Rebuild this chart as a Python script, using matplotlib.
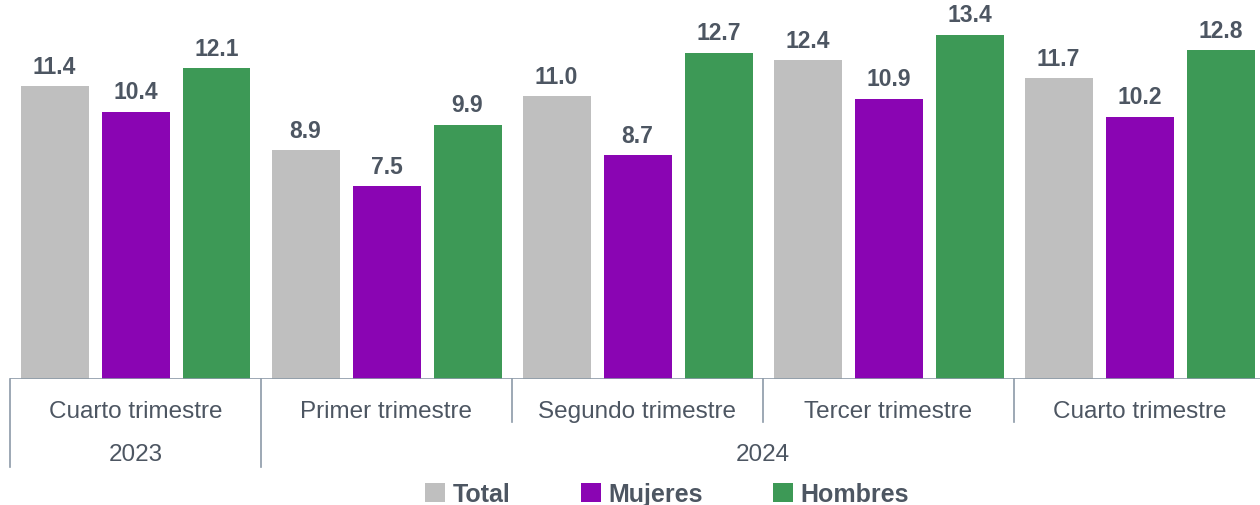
import numpy as np
import matplotlib.pyplot as plt

plt.rcParams['font.family'] = ['Liberation Sans', 'DejaVu Sans']

quarters = ['Cuarto trimestre', 'Primer trimestre', 'Segundo trimestre',
            'Tercer trimestre', 'Cuarto trimestre']
years = ['2023', '2024']
year_spans = [(0, 1), (1, 5)]
series = ['Total', 'Mujeres', 'Hombres']
total = [11.4, 8.9, 11.0, 12.4, 11.7]
mujeres = [10.4, 7.5, 8.7, 10.9, 10.2]
hombres = [12.1, 9.9, 12.7, 13.4, 12.8]
colors = ['#bfbfbf', '#8a05b3', '#3d9956']

text_color = '#4d5662'
line_color = '#8c9aa8'

W, H = 1260, 506
fig = plt.figure(figsize=(W / 100, H / 100), dpi=100)
# axes: x from pixel 10 to 1260, baseline at pixel 380, top at pixel 0
ax = fig.add_axes([10 / W, (H - 380) / H, 1250 / W, 380 / H])

x = np.arange(len(quarters))
bw = 68 / 251
step = 81 / 251
for k, (name, vals) in enumerate(zip(series, [total, mujeres, hombres])):
    pos = x + (k - 1) * step
    bars = ax.bar(pos, vals, width=bw, color=colors[k], label=name, zorder=2)
    for b, v in zip(bars, vals):
        ax.text(b.get_x() + b.get_width() / 2, v + 0.33, f'{v:.1f}',
                ha='center', va='bottom', fontsize=16.5, fontweight='bold',
                color=text_color)

ax.set_xlim(-0.5, 4.5 - 5 / 251)
ax.set_ylim(0, 380 / 25.7)
ax.axis('off')
ax.axhline(0, color=line_color, lw=1.2, zorder=3)

# two-level category axis
trans = ax.get_xaxis_transform()
px = 1 / 380  # one pixel in axes-height units
for i, q in enumerate(quarters):
    ax.text(i, -32 * px, q, transform=trans, ha='center', va='center',
            fontsize=17.5, color=text_color)
for (a, b), y in zip(year_spans, years):
    ax.text((a + b - 1) / 2, -75 * px, y, transform=trans, ha='center',
            va='center', fontsize=17.5, color=text_color)

boundaries = [-0.5, 0.5, 1.5, 2.5, 3.5]
year_edges = [-0.5, 0.5]
for bnd in boundaries:
    bottom = -88 * px if bnd in year_edges else -43 * px
    ax.plot([bnd, bnd], [0, bottom], transform=trans, color=line_color,
            lw=1.2, clip_on=False)

leg = fig.legend(loc='center', bbox_to_anchor=(667 / W, 1 - 495 / H), ncol=3,
                 frameon=False, handlelength=0.8, handleheight=0.8,
                 handletextpad=0.3, columnspacing=2.8,
                 prop={'size': 18, 'weight': 'bold'})
for t in leg.get_texts():
    t.set_color(text_color)

fig.savefig('out.png', dpi=100)
